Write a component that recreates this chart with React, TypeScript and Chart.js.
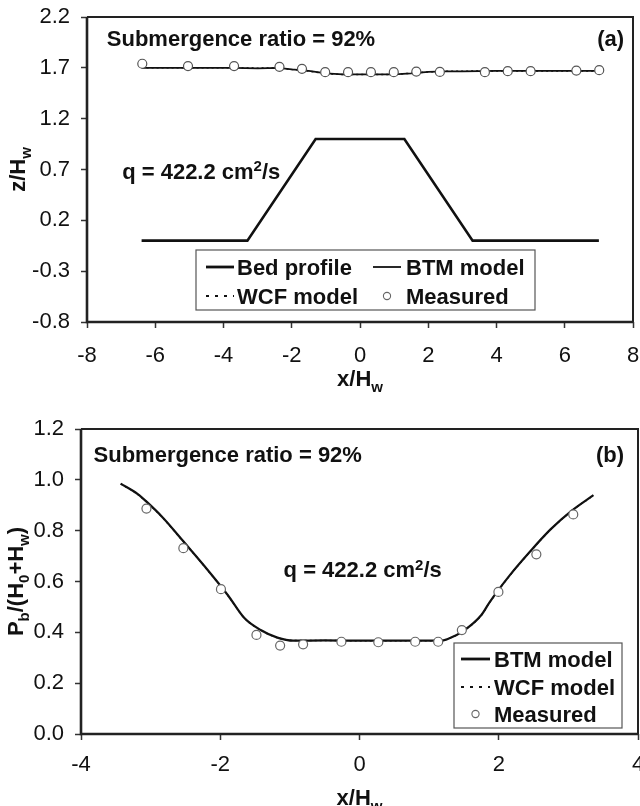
import React, { useEffect, useRef } from "react";
import { Chart, registerables } from "chart.js";

Chart.register(...registerables);

const FONT = "'Liberation Sans', Arial, Helvetica, sans-serif";
const INK = "#111111";

// ---------------- Panel (a) data ----------------
const A_X_TICKS = [-8, -6, -4, -2, 0, 2, 4, 6, 8];
const A_Y_TICKS = [-0.8, -0.3, 0.2, 0.7, 1.2, 1.7, 2.2];

const A_BED_X = [-6.4, -3.3, -1.3, 1.3, 3.3, 7.0];
const A_BED_Y = [0, 0, 1.0, 1.0, 0, 0];

const A_BTM_X = [-6.4, -5.0, -3.7, -3.0, -2.4, -2.0, -1.5, -1.0, -0.5, 0, 0.5, 1.0, 1.5, 2.0, 2.5, 3.0, 4.0, 5.0, 6.0, 7.0];
const A_BTM_Y = [1.70, 1.70, 1.70, 1.695, 1.70, 1.685, 1.67, 1.645, 1.635, 1.635, 1.635, 1.635, 1.645, 1.66, 1.665, 1.665, 1.67, 1.67, 1.67, 1.67];
const A_WCF_Y = [1.70, 1.70, 1.70, 1.697, 1.698, 1.684, 1.668, 1.643, 1.634, 1.634, 1.634, 1.636, 1.646, 1.66, 1.666, 1.667, 1.67, 1.67, 1.67, 1.67];

const A_MEAS_X = [-6.38, -5.04, -3.69, -2.36, -1.70, -1.02, -0.35, 0.32, 0.99, 1.65, 2.34, 3.66, 4.33, 5.0, 6.34, 7.01];
const A_MEAS_Y = [1.74, 1.717, 1.717, 1.71, 1.69, 1.657, 1.657, 1.657, 1.657, 1.663, 1.66, 1.657, 1.667, 1.667, 1.673, 1.677];

// ---------------- Panel (b) data ----------------
const B_X_TICKS = [-4, -2, 0, 2, 4];
const B_Y_TICKS = [0, 0.2, 0.4, 0.6, 0.8, 1.0, 1.2];

const B_BTM_X = [-3.43, -3.18, -3.07, -2.82, -2.53, -2.24, -1.89, -1.65, -1.42, -1.18, -0.95, -0.5, 0, 0.5, 1.0, 1.16, 1.26, 1.51, 1.75, 1.87, 2.16, 2.45, 2.74, 3.04, 3.36];
const B_BTM_Y = [0.985, 0.943, 0.917, 0.85, 0.758, 0.665, 0.546, 0.455, 0.409, 0.379, 0.367, 0.368, 0.367, 0.367, 0.367, 0.367, 0.373, 0.409, 0.468, 0.519, 0.625, 0.718, 0.804, 0.877, 0.94];
const B_WCF_Y = [0.984, 0.942, 0.916, 0.849, 0.757, 0.664, 0.545, 0.455, 0.409, 0.379, 0.368, 0.368, 0.367, 0.367, 0.367, 0.367, 0.373, 0.409, 0.467, 0.518, 0.624, 0.717, 0.803, 0.876, 0.939];

const B_MEAS_X = [-3.06, -2.53, -1.99, -1.48, -1.14, -0.81, -0.26, 0.27, 0.80, 1.13, 1.47, 1.995, 2.54, 3.07];
const B_MEAS_Y = [0.887, 0.731, 0.57, 0.39, 0.348, 0.353, 0.363, 0.361, 0.363, 0.363, 0.409, 0.559, 0.707, 0.864];

// ---------------- helpers ----------------
type Seg = { t: string; sub?: boolean; sup?: boolean };

const zip = (xs: number[], ys: number[]) => xs.map((x, i) => ({ x, y: ys[i] }));

function richWidth(ctx: CanvasRenderingContext2D, segs: Seg[], size: number, bold: boolean) {
  const small = Math.round(size * 0.66);
  let w = 0;
  for (const s of segs) {
    ctx.font = `${bold ? "bold " : ""}${s.sub || s.sup ? small : size}px ${FONT}`;
    w += ctx.measureText(s.t).width;
  }
  return w;
}

function drawRich(
  ctx: CanvasRenderingContext2D,
  segs: Seg[],
  x: number,
  yCenter: number,
  size: number,
  bold: boolean,
  align: "left" | "center" | "right"
) {
  const small = Math.round(size * 0.66);
  const total = richWidth(ctx, segs, size, bold);
  let cx = align === "left" ? x : align === "center" ? x - total / 2 : x - total;
  const base = yCenter + size * 0.36;
  ctx.textAlign = "left";
  ctx.textBaseline = "alphabetic";
  ctx.fillStyle = INK;
  for (const s of segs) {
    ctx.font = `${bold ? "bold " : ""}${s.sub || s.sup ? small : size}px ${FONT}`;
    const dy = s.sub ? size * 0.27 : s.sup ? -size * 0.36 : 0;
    ctx.fillText(s.t, cx, base + dy);
    cx += ctx.measureText(s.t).width;
  }
}

type LegendItem = { kind: "thick" | "thin" | "dotted" | "circle"; label: string; sx: number; tx: number; y: number };

interface PanelSpec {
  height: number;
  padTop: number;
  padRight: number;
  yAxisWidth: number;
  xAxisHeight: number;
  xMin: number;
  xMax: number;
  yMin: number;
  yMax: number;
  xTicks: number[];
  yTicks: number[];
  yDecimals: number;
  xTickPad: number;
  datasets: any[];
  texts: { segs: Seg[]; x: number; y: number; align: "left" | "center" | "right"; bold: boolean; size: number }[];
  xTitle: Seg[];
  xTitleY: number;
  yTitle: Seg[];
  yTitleX: number;
  legendBox: [number, number, number, number];
  legendItems: LegendItem[];
  sampleW: number;
}

function makePlugin(spec: PanelSpec) {
  return {
    id: "panelDecor",
    afterDraw(chart: any) {
      const ctx: CanvasRenderingContext2D = chart.ctx;
      const { left, right, top, bottom } = chart.chartArea;
      const xs = chart.scales.x;
      const ys = chart.scales.y;
      ctx.save();
      // frame
      ctx.strokeStyle = "#222";
      ctx.lineWidth = 2;
      ctx.beginPath();
      ctx.moveTo(left, top);
      ctx.lineTo(right, top);
      ctx.lineTo(right, bottom);
      ctx.stroke();
      ctx.lineWidth = 2.6;
      ctx.beginPath();
      ctx.moveTo(left, top);
      ctx.lineTo(left, bottom);
      ctx.lineTo(right, bottom);
      ctx.stroke();

      // annotations (data coordinates)
      for (const t of spec.texts) {
        drawRich(ctx, t.segs, xs.getPixelForValue(t.x), ys.getPixelForValue(t.y), t.size, t.bold, t.align);
      }

      // axis titles
      drawRich(ctx, spec.xTitle, (left + right) / 2, spec.xTitleY, 22, true, "center");
      ctx.save();
      ctx.translate(spec.yTitleX, (top + bottom) / 2);
      ctx.rotate(-Math.PI / 2);
      drawRich(ctx, spec.yTitle, 0, 0, 22, true, "center");
      ctx.restore();

      // legend
      const [bx, by, bw, bh] = spec.legendBox;
      ctx.fillStyle = "#ffffff";
      ctx.fillRect(bx, by, bw, bh);
      ctx.strokeStyle = "#555";
      ctx.lineWidth = 1.2;
      ctx.strokeRect(bx, by, bw, bh);
      for (const it of spec.legendItems) {
        ctx.strokeStyle = INK;
        ctx.setLineDash([]);
        if (it.kind === "circle") {
          ctx.fillStyle = "#fff";
          ctx.strokeStyle = "#666";
          ctx.lineWidth = 1.1;
          ctx.beginPath();
          ctx.arc(it.sx + spec.sampleW / 2, it.y, 3.6, 0, Math.PI * 2);
          ctx.fill();
          ctx.stroke();
        } else {
          ctx.lineWidth = it.kind === "thick" ? 2.8 : it.kind === "thin" ? 1.8 : 2;
          if (it.kind === "dotted") ctx.setLineDash([3, 6]);
          ctx.beginPath();
          ctx.moveTo(it.sx, it.y);
          ctx.lineTo(it.sx + spec.sampleW, it.y);
          ctx.stroke();
          ctx.setLineDash([]);
        }
        drawRich(ctx, [{ t: it.label }], it.tx, it.y, 22, true, "left");
      }
      ctx.restore();
    },
  };
}

function Panel({ spec, top }: { spec: PanelSpec; top: number }) {
  const ref = useRef<HTMLCanvasElement | null>(null);
  useEffect(() => {
    if (!ref.current) return;
    const tickFont = { family: FONT, size: 22 };
    const chart = new Chart(ref.current, {
      type: "scatter",
      data: { datasets: spec.datasets },
      options: {
        responsive: false,
        animation: false,
        layout: { autoPadding: false, padding: { top: spec.padTop, right: spec.padRight, left: 0, bottom: 0 } },
        plugins: { legend: { display: false }, tooltip: { enabled: false } },
        scales: {
          x: {
            type: "linear",
            min: spec.xMin,
            max: spec.xMax,
            afterBuildTicks: (s: any) => {
              s.ticks = spec.xTicks.map((v) => ({ value: v }));
            },
            afterFit: (s: any) => {
              s.height = spec.xAxisHeight;
              s.paddingLeft = 0;
              s.paddingRight = 0;
            },
            ticks: {
              font: tickFont,
              color: INK,
              padding: spec.xTickPad,
              autoSkip: false,
              maxRotation: 0,
              callback: (v: any) => String(Math.round(Number(v))),
            },
            grid: { display: true, drawOnChartArea: false, drawTicks: true, tickLength: 6, tickColor: "#333", tickWidth: 1.5 },
            border: { display: false },
          },
          y: {
            type: "linear",
            min: spec.yMin,
            max: spec.yMax,
            afterBuildTicks: (s: any) => {
              s.ticks = spec.yTicks.map((v) => ({ value: v }));
            },
            afterFit: (s: any) => {
              s.width = spec.yAxisWidth;
              s.paddingTop = 0;
              s.paddingBottom = 0;
            },
            ticks: {
              font: tickFont,
              color: INK,
              padding: 11,
              autoSkip: false,
              callback: (v: any) => Number(v).toFixed(spec.yDecimals),
            },
            grid: { display: true, drawOnChartArea: false, drawTicks: true, tickLength: 6, tickColor: "#333", tickWidth: 1.5 },
            border: { display: false },
          },
        },
      },
      plugins: [makePlugin(spec)],
    } as any);
    return () => chart.destroy();
  }, [spec]);
  return (
    <div style={{ position: "absolute", left: 0, top, width: 640, height: spec.height }}>
      <canvas ref={ref} width={640} height={spec.height} style={{ display: "block", width: 640, height: spec.height }} />
    </div>
  );
}

const measuredStyle = (color: string) => ({
  showLine: false,
  pointRadius: 4.5,
  pointBackgroundColor: "#ffffff",
  pointBorderColor: color,
  pointBorderWidth: 1.2,
});

const SPEC_A: PanelSpec = {
  height: 403,
  padTop: 17,
  padRight: 7,
  yAxisWidth: 87,
  xAxisHeight: 81,
  xMin: -8,
  xMax: 8,
  yMin: -0.8,
  yMax: 2.2,
  xTicks: A_X_TICKS,
  yTicks: A_Y_TICKS,
  yDecimals: 1,
  xTickPad: 15,
  datasets: [
    { label: "Measured", data: zip(A_MEAS_X, A_MEAS_Y), ...measuredStyle("#555") },
    { label: "WCF model", data: zip(A_BTM_X, A_WCF_Y), showLine: true, pointRadius: 0, borderColor: INK, borderWidth: 1.5, borderDash: [2, 3] },
    { label: "BTM model", data: zip(A_BTM_X, A_BTM_Y), showLine: true, pointRadius: 0, borderColor: INK, borderWidth: 1.8 },
    { label: "Bed profile", data: zip(A_BED_X, A_BED_Y), showLine: true, pointRadius: 0, borderColor: INK, borderWidth: 2.6 },
  ],
  texts: [
    { segs: [{ t: "Submergence ratio = 92%" }], x: -7.42, y: 1.99, align: "left", bold: true, size: 22 },
    { segs: [{ t: "(a)" }], x: 7.74, y: 1.99, align: "right", bold: true, size: 22 },
    { segs: [{ t: "q = 422.2 cm" }, { t: "2", sup: true }, { t: "/s" }], x: -6.97, y: 0.686, align: "left", bold: true, size: 22 },
  ],
  xTitle: [{ t: "x/H" }, { t: "w", sub: true }],
  xTitleY: 378,
  yTitle: [{ t: "z/H" }, { t: "w", sub: true }],
  yTitleX: 17,
  legendBox: [196, 250, 339, 60],
  legendItems: [
    { kind: "thick", label: "Bed profile", sx: 206, tx: 237, y: 267 },
    { kind: "thin", label: "BTM model", sx: 373, tx: 406, y: 267 },
    { kind: "dotted", label: "WCF model", sx: 206, tx: 237, y: 296 },
    { kind: "circle", label: "Measured", sx: 373, tx: 406, y: 296 },
  ],
  sampleW: 28,
};

const SPEC_B: PanelSpec = {
  height: 403,
  padTop: 26,
  padRight: 2,
  yAxisWidth: 81,
  xAxisHeight: 72,
  xMin: -4,
  xMax: 4,
  yMin: 0,
  yMax: 1.2,
  xTicks: B_X_TICKS,
  yTicks: B_Y_TICKS,
  yDecimals: 1,
  xTickPad: 12,
  datasets: [
    { label: "Measured", data: zip(B_MEAS_X, B_MEAS_Y), ...measuredStyle("#666") },
    { label: "WCF model", data: zip(B_BTM_X, B_WCF_Y), showLine: true, pointRadius: 0, borderColor: INK, borderWidth: 1.5, borderDash: [2, 3], cubicInterpolationMode: "monotone" },
    { label: "BTM model", data: zip(B_BTM_X, B_BTM_Y), showLine: true, pointRadius: 0, borderColor: INK, borderWidth: 2.2, cubicInterpolationMode: "monotone" },
  ],
  texts: [
    { segs: [{ t: "Submergence ratio = 92%" }], x: -3.82, y: 1.10, align: "left", bold: true, size: 22 },
    { segs: [{ t: "(b)" }], x: 3.8, y: 1.10, align: "right", bold: true, size: 22 },
    { segs: [{ t: "q = 422.2 cm" }, { t: "2", sup: true }, { t: "/s" }], x: -1.09, y: 0.647, align: "left", bold: true, size: 22 },
  ],
  xTitle: [{ t: "x/H" }, { t: "w", sub: true }],
  xTitleY: 394,
  yTitle: [{ t: "P" }, { t: "b", sub: true }, { t: "/(H" }, { t: "0", sub: true }, { t: "+H" }, { t: "w", sub: true }, { t: ")" }],
  yTitleX: 15,
  legendBox: [454, 240, 168, 85],
  legendItems: [
    { kind: "thick", label: "BTM model", sx: 461, tx: 494, y: 256 },
    { kind: "dotted", label: "WCF model", sx: 461, tx: 494, y: 284 },
    { kind: "circle", label: "Measured", sx: 461, tx: 494, y: 311 },
  ],
  sampleW: 29,
};

export default function App() {
  return (
    <div style={{ position: "absolute", left: 0, top: 0, width: 640, height: 806, background: "#ffffff", overflow: "hidden" }}>
      <Panel spec={SPEC_A} top={0} />
      <Panel spec={SPEC_B} top={403} />
    </div>
  );
}
